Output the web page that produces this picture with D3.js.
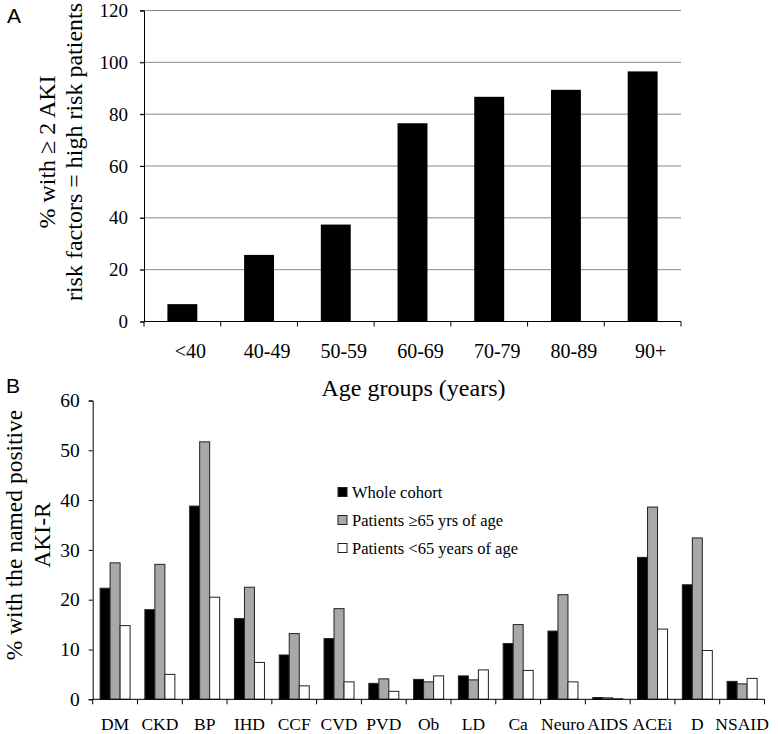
<!DOCTYPE html>
<html>
<head>
<meta charset="utf-8">
<script src="https://cdn.jsdelivr.net/npm/d3@7"></script>
<style>
  body { margin: 0; background: #fff; }
  svg { display: block; }
  text { font-family: "Liberation Serif", "Times New Roman", serif; fill: #000; }
</style>
</head>
<body>
<svg id="chart" width="778" height="734"></svg>
<script>
// panel A data
const ageGroups = ["<40", "40-49", "50-59", "60-69", "70-79", "80-89", "90+"];
const highRiskPct = [6.7, 25.7, 37.4, 76.5, 86.7, 89.4, 96.5];
const ticksA = [0, 20, 40, 60, 80, 100, 120];

// panel B data
const riskFactors = ["DM", "CKD", "BP", "IHD", "CCF", "CVD", "PVD", "Ob", "LD", "Ca", "Neuro", "AIDS", "ACEi", "D", "NSAID"];
const seriesNames = ["Whole cohort", "Patients \u226565 yrs of age", "Patients <65 years of age"];
const wholeCohort = [22.3, 18.0, 38.8, 16.2, 8.9, 12.2, 3.2, 4.0, 4.7, 11.2, 13.7, 0.35, 28.5, 23.0, 3.6];
const over65 = [27.4, 27.1, 51.7, 22.5, 13.2, 18.2, 4.1, 3.5, 3.9, 15.0, 21.0, 0.3, 38.6, 32.4, 3.1];
const under65 = [14.8, 5.0, 20.5, 7.4, 2.7, 3.5, 1.6, 4.7, 5.9, 5.8, 3.5, 0.1, 14.1, 9.8, 4.2];
const ticksB = [0, 10, 20, 30, 40, 50, 60];
const seriesFill = ["#000000", "#a8a8a8", "#ffffff"];

const svg = d3.select("#chart");

// ---------- panel A ----------
const xA = d3.scaleBand().domain(ageGroups).range([144, 681]).paddingInner(0.61).paddingOuter(0.305);
const yA = d3.scaleLinear().domain([0, 120]).range([321.5, 10.5]);

const gA = svg.append("g");

// gridlines
gA.selectAll("line.grid")
  .data(ticksA.filter(d => d > 0))
  .enter().append("line")
  .attr("x1", 140).attr("x2", 681)
  .attr("y1", d => yA(d)).attr("y2", d => yA(d))
  .attr("stroke", "#8a8a8a").attr("stroke-width", 1);

gA.selectAll("rect")
  .data(highRiskPct)
  .enter().append("rect")
  .attr("x", (d, i) => xA(ageGroups[i]))
  .attr("y", d => yA(d))
  .attr("width", xA.bandwidth())
  .attr("height", d => yA(0) - yA(d))
  .attr("fill", "#000");

const yAxisA = gA.append("g")
  .attr("transform", "translate(144,0)")
  .call(d3.axisLeft(yA).tickValues(ticksA).tickSize(4).tickPadding(12))
  .attr("font-family", null).attr("font-size", null);
yAxisA.selectAll("text").style("font-size", "19px");

// x axis with ticks at band edges
const edgesA = d3.range(ageGroups.length + 1).map(i => 144 + i * xA.step());
gA.append("line").attr("x1", 144).attr("x2", 681).attr("y1", yA(0)).attr("y2", yA(0)).attr("stroke", "#000");
gA.selectAll("line.xt")
  .data(edgesA)
  .enter().append("line")
  .attr("x1", d => d).attr("x2", d => d)
  .attr("y1", yA(0)).attr("y2", yA(0) + 5)
  .attr("stroke", "#000");
gA.selectAll("text.xl")
  .data(ageGroups)
  .enter().append("text")
  .attr("x", d => xA(d) + xA.bandwidth() / 2 + 8)
  .attr("y", 358)
  .attr("text-anchor", "middle")
  .style("font-size", "20px")
  .text(d => d);

gA.append("text")
  .attr("x", 413.5).attr("y", 396)
  .attr("text-anchor", "middle")
  .style("font-size", "24px")
  .text("Age groups (years)");

const titleA = gA.append("text")
  .attr("transform", "translate(0,152) rotate(-90)")
  .attr("text-anchor", "middle")
  .style("font-size", "24px");
titleA.append("tspan").attr("x", 0).attr("y", 55).text("% with \u2265 2 AKI");
titleA.append("tspan").attr("x", 0).attr("y", 82).text("risk factors = high risk patients");

svg.append("text").attr("x", 7).attr("y", 23)
  .style("font-family", "Liberation Sans, Arial, sans-serif")
  .style("font-size", "21px").text("A");

// ---------- panel B ----------
const xB = d3.scaleBand().domain(riskFactors).range([92.7, 764.5]).paddingInner(0.33).paddingOuter(0.165);
const xSub = d3.scaleBand().domain(d3.range(3)).range([0, xB.bandwidth()]);
const yB = d3.scaleLinear().domain([0, 60]).range([699.3, 400.5]);

const gB = svg.append("g");
const seriesVals = [wholeCohort, over65, under65];

const groups = gB.selectAll("g.grp")
  .data(riskFactors)
  .enter().append("g")
  .attr("transform", d => `translate(${xB(d)},0)`);

groups.selectAll("rect")
  .data((d, i) => seriesVals.map((s, k) => ({ k, v: s[i] })))
  .enter().append("rect")
  .attr("x", d => xSub(d.k))
  .attr("y", d => yB(d.v))
  .attr("width", xSub.bandwidth())
  .attr("height", d => yB(0) - yB(d.v))
  .attr("fill", d => seriesFill[d.k])
  .attr("stroke", "#222")
  .attr("stroke-width", 1);

const yAxisB = gB.append("g")
  .attr("transform", "translate(92.7,0)")
  .call(d3.axisLeft(yB).tickValues(ticksB).tickSize(4).tickPadding(9))
  .attr("font-family", null).attr("font-size", null);
yAxisB.selectAll("text").style("font-size", "19.5px");

const edgesB = d3.range(riskFactors.length + 1).map(i => 92.7 + i * xB.step());
gB.append("line").attr("x1", 92.7).attr("x2", 764.5).attr("y1", yB(0)).attr("y2", yB(0)).attr("stroke", "#000");
gB.selectAll("line.xt")
  .data(edgesB)
  .enter().append("line")
  .attr("x1", d => d).attr("x2", d => d)
  .attr("y1", yB(0)).attr("y2", yB(0) + 5)
  .attr("stroke", "#000");
gB.selectAll("text.xl")
  .data(riskFactors)
  .enter().append("text")
  .attr("x", d => xB(d) + xB.bandwidth() / 2)
  .attr("y", 730)
  .attr("text-anchor", "middle")
  .style("font-size", "17.5px")
  .text(d => d);

const titleB = gB.append("text")
  .attr("transform", "translate(0,535) rotate(-90)")
  .attr("text-anchor", "middle")
  .style("font-size", "23.5px");
titleB.append("tspan").attr("x", 0).attr("y", 22).text("% with the named positive");
titleB.append("tspan").attr("x", 0).attr("y", 50).text("AKI-R");

svg.append("text").attr("x", 6).attr("y", 393)
  .style("font-family", "Liberation Sans, Arial, sans-serif")
  .style("font-size", "21px").text("B");

// legend
const legend = gB.selectAll("g.leg")
  .data(seriesNames)
  .enter().append("g")
  .attr("transform", (d, i) => `translate(338,${492 + i * 28})`);
legend.append("rect")
  .attr("x", 0).attr("y", -4.5).attr("width", 9).attr("height", 9)
  .attr("fill", (d, i) => seriesFill[i]).attr("stroke", "#222");
legend.append("text")
  .attr("x", 14).attr("y", 5.5)
  .style("font-size", "16.5px")
  .text(d => d);
</script>
</body>
</html>
